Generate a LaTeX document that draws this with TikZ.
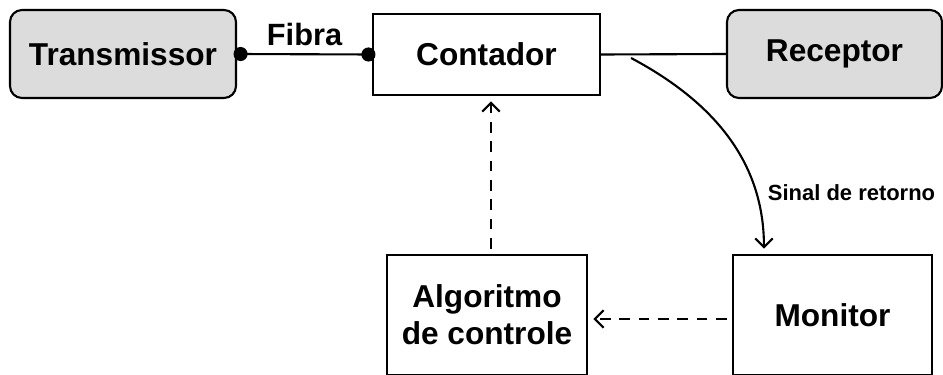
\documentclass[tikz,border=0pt]{standalone}
\usepackage{fontspec}
\setmainfont{Liberation Sans}
\usetikzlibrary{arrows.meta}
\definecolor{boxgray}{HTML}{DCDCDC}
\begin{document}
\begin{tikzpicture}[line width=1.2pt]
  \tikzstyle{grayblock}=[draw, fill=boxgray, rounded corners=0.24cm, font=\fontsize{18}{22}\selectfont\bfseries]
  \tikzstyle{whiteblock}=[draw, fill=white, align=center, font=\fontsize{18}{22}\selectfont\bfseries]
  \tikzstyle{feedback}=[dashed, dash pattern=on 6pt off 5pt, -{Straight Barb[length=5pt,width=10pt]}]
  \useasboundingbox (0,0) rectangle (18.86,-7.48);

  % top row
  \node[grayblock, minimum width=4.52cm, minimum height=1.76cm] (trans) at (2.46,-1.08) {Transmissor};
  \node[whiteblock, minimum width=4.54cm, minimum height=1.62cm] (cont) at (9.73,-1.09) {Contador};
  \node[grayblock, minimum width=4.30cm, minimum height=1.76cm] (recep) at (16.69,-1.08) {Receptor};

  % bottom row
  \node[whiteblock, minimum width=4.0cm, minimum height=2.4cm] (alg) at (9.74,-6.3) {Algoritmo\\[-1pt]de controle};
  \node[whiteblock, minimum width=3.98cm, minimum height=2.4cm] (mon) at (16.65,-6.3) {Monitor};

  % connections
  \draw[{Circle[length=8pt]}-{Circle[length=8pt]}, shorten <=-2pt, shorten >=-2pt] (trans.east) -- node[above=1pt, font=\fontsize{17.5}{20}\selectfont\bfseries] (fibra) {Fibra} (cont.west);
  \draw (cont.east) -- (recep.west);
  \coordinate (ret) at ([xshift=0.6cm, yshift=-0.07cm]cont.east);
  \draw[-{Straight Barb[length=5pt,width=10pt]}, shorten >=3pt] (ret) to[out=-28, in=90] ([xshift=0.64cm]mon.north west);
  \node[anchor=west, font=\fontsize{12.5}{15}\selectfont\bfseries] (sinal) at (15.22,-3.86) {Sinal de retorno};
  \draw[feedback, shorten <=3pt, shorten >=3pt] ([xshift=0.08cm]alg.north) -- ([xshift=0.08cm]alg.north |- cont.south);
  \draw[feedback, shorten <=3pt, shorten >=3pt] ([yshift=-0.08cm]mon.west) -- ([yshift=-0.08cm]mon.west -| alg.east);
\end{tikzpicture}
\end{document}
